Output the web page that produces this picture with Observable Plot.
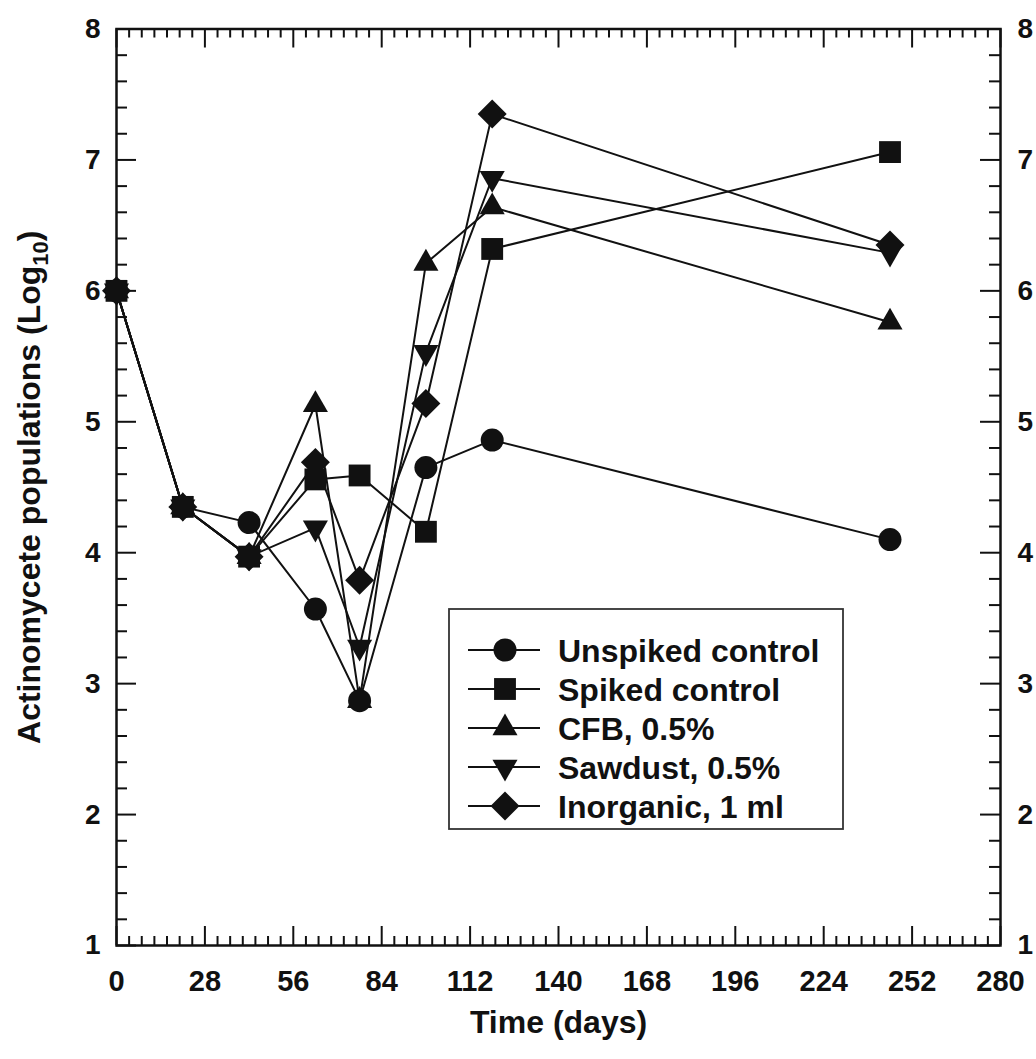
<!DOCTYPE html>
<html>
<head>
<meta charset="utf-8">
<script src="https://cdn.jsdelivr.net/npm/d3@7"></script>
<script src="https://cdn.jsdelivr.net/npm/@observablehq/plot@0.6"></script>
<style>
  body { margin: 0; background: #fff; }
  #wrap { position: relative; width: 1036px; height: 1059px; font-family: "Liberation Sans", Arial, Helvetica, sans-serif; }
  #legend { position: absolute; left: 448px; top: 608px; }
</style>
</head>
<body>
<div id="wrap"></div>
<script>
// Sampling days and log10 actinomycete counts for each treatment
const days = [0, 21, 42, 63, 77, 98, 119, 245];
const seriesNames = ["Unspiked control", "Spiked control", "CFB, 0.5%", "Sawdust, 0.5%", "Inorganic, 1 ml"];
const unspiked  = [6.0, 4.35, 4.23, 3.57, 2.87, 4.65, 4.86, 4.10];
const spiked    = [6.0, 4.35, 3.97, 4.56, 4.59, 4.16, 6.32, 7.06];
const cfb       = [6.0, 4.35, 3.97, 5.13, 2.87, 6.21, 6.64, 5.76];
const sawdust   = [6.0, 4.35, 3.97, 4.19, 3.28, 5.53, 6.86, 6.29];
const inorganic = [6.0, 4.35, 3.97, 4.69, 3.79, 5.14, 7.35, 6.35];

// Axis ticks
const xMajor = d3.range(0, 281, 28);
const xMinor = d3.range(0, 281, 4).filter(d => d % 28 !== 0);
const yMajor = d3.range(1, 9);
const yMinor = d3.range(10, 81, 2).filter(k => k % 10 !== 0).map(k => k / 10);

// Filled marker shapes (size = PI * r^2)
const radius = s => Math.sqrt(s / Math.PI);
const shapes = {
  circle: { draw(c, s) { const r = radius(s); c.moveTo(r, 0); c.arc(0, 0, r, 0, 2 * Math.PI); } },
  square: { draw(c, s) { const h = radius(s) * 0.95; c.rect(-h, -h, 2 * h, 2 * h); } },
  up: { draw(c, s) { const r = radius(s), w = r * 1.09, H = r * 1.9;
        c.moveTo(0, -2 * H / 3); c.lineTo(w, H / 3); c.lineTo(-w, H / 3); c.closePath(); } },
  down: { draw(c, s) { const r = radius(s), w = r * 1.09, H = r * 1.9;
        c.moveTo(0, 2 * H / 3); c.lineTo(w, -H / 3); c.lineTo(-w, -H / 3); c.closePath(); } },
  diamond: { draw(c, s) { const d = radius(s) * 1.26;
        c.moveTo(0, -d); c.lineTo(d, 0); c.lineTo(0, d); c.lineTo(-d, 0); c.closePath(); } }
};
const seriesValues = [unspiked, spiked, cfb, sawdust, inorganic];
const seriesShapes = [shapes.circle, shapes.square, shapes.up, shapes.down, shapes.diamond];
const R = 11.5;

const rows = seriesNames.flatMap((name, s) =>
  days.map((day, i) => ({ series: name, day, value: seriesValues[s][i] })));

const W = 1036, H = 1059;
const mL = 116, mR = 36, mT = 28.5, mB = 114;
const plotW = W - mL - mR, plotH = H - mT - mB;
const ink = "#111";
const intFormat = d3.format("d");

// Drawing order of the markers (later ones sit on top)
const dotOrder = [2, 3, 4, 1, 0];

const chart = Plot.plot({
  width: W,
  height: H,
  marginLeft: mL, marginRight: mR, marginTop: mT, marginBottom: mB,
  style: { fontFamily: "Liberation Sans, Arial, Helvetica, sans-serif", color: ink, background: "#fff", overflow: "visible" },
  x: { domain: [0, 280] },
  y: { domain: [1, 8] },
  marks: [
    // inward ticks on all four sides
    Plot.tickX(xMajor, { x: d => d, insetTop: plotH - 19, stroke: ink, strokeWidth: 2 }),
    Plot.tickX(xMinor, { x: d => d, insetTop: plotH - 9, stroke: ink, strokeWidth: 2 }),
    Plot.tickX(xMajor, { x: d => d, insetBottom: plotH - 19, stroke: ink, strokeWidth: 2 }),
    Plot.tickX(xMinor, { x: d => d, insetBottom: plotH - 9, stroke: ink, strokeWidth: 2 }),
    Plot.tickY(yMajor, { y: d => d, insetRight: plotW - 20, stroke: ink, strokeWidth: 2 }),
    Plot.tickY(yMinor, { y: d => d, insetRight: plotW - 11, stroke: ink, strokeWidth: 2 }),
    Plot.tickY(yMajor, { y: d => d, insetLeft: plotW - 20, stroke: ink, strokeWidth: 2 }),
    Plot.tickY(yMinor, { y: d => d, insetLeft: plotW - 11, stroke: ink, strokeWidth: 2 }),
    Plot.frame({ stroke: ink, strokeWidth: 2.5 }),
    // tick labels
    Plot.axisX({ anchor: "bottom", ticks: xMajor, tickSize: 0, tickPadding: 25, fontSize: 29, fontWeight: "bold", label: null, tickFormat: intFormat }),
    Plot.axisY({ anchor: "left", ticks: yMajor, tickSize: 0, tickPadding: 16, fontSize: 28, fontWeight: "bold", label: null, tickFormat: intFormat }),
    Plot.axisY({ anchor: "right", ticks: yMajor, tickSize: 0, tickPadding: 17, fontSize: 28, fontWeight: "bold", label: null, tickFormat: intFormat }),
    // axis titles
    Plot.text(["Time (days)"], { frameAnchor: "bottom", lineAnchor: "middle", dy: 77, fontSize: 32, fontWeight: "bold", fill: ink }),
    Plot.text(["Actinomycete populations (Log10)"], { frameAnchor: "left", textAnchor: "middle", lineAnchor: "middle", dx: -87, rotate: -90, fontSize: 32, fontWeight: "bold", fill: ink }),
    // connecting lines
    Plot.line(rows, { x: "day", y: "value", z: "series", stroke: ink, strokeWidth: 2 }),
    // markers
    ...dotOrder.map(s => Plot.dot(rows.filter(r => r.series === seriesNames[s]),
      { x: "day", y: "value", r: R, symbol: seriesShapes[s], fill: ink, stroke: "none" }))
  ]
});

const wrap = document.getElementById("wrap");
wrap.appendChild(chart);

// Subscript the "10" in the y-axis title
d3.select(chart).selectAll("text").each(function () {
  if (this.textContent === "Actinomycete populations (Log10)") {
    const t = d3.select(this);
    t.text("Actinomycete populations (Log");
    t.append("tspan").attr("font-size", 22).attr("dy", 8).text("10");
    t.append("tspan").attr("dy", -8).text(")");
  }
});

// Legend box
const LW = 396, LH = 222, rowTop = 42, rowStep = 39;
const legend = d3.select(wrap).append("svg")
  .attr("id", "legend").attr("width", LW).attr("height", LH);
legend.append("rect").attr("x", 1).attr("y", 1).attr("width", LW - 2).attr("height", LH - 2)
  .attr("fill", "#fff").attr("stroke", "#333").attr("stroke-width", 1.8);
seriesNames.forEach((name, i) => {
  const g = legend.append("g").attr("transform", `translate(0,${rowTop + i * rowStep})`);
  g.append("line").attr("x1", 20).attr("x2", 92).attr("stroke", ink).attr("stroke-width", 2);
  g.append("path").attr("transform", "translate(57,0)")
    .attr("d", d3.symbol().type(seriesShapes[i]).size(Math.PI * R * R)()).attr("fill", ink);
  g.append("text").attr("x", 110).attr("dy", "0.36em")
    .attr("font-family", "Liberation Sans, Arial, Helvetica, sans-serif")
    .attr("font-size", 32).attr("font-weight", "bold").attr("fill", ink).text(name);
});
</script>
</body>
</html>
